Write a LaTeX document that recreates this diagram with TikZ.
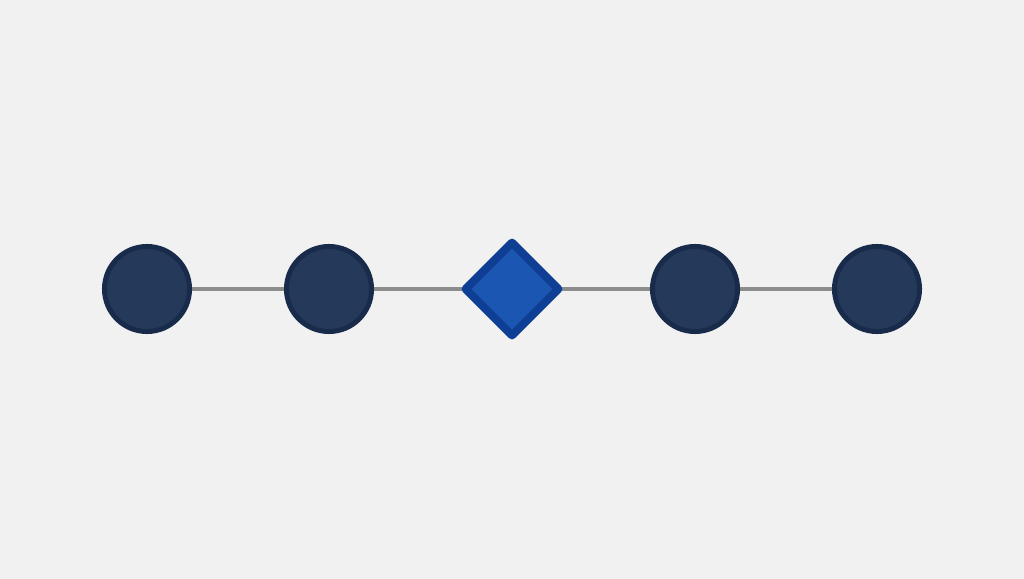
\documentclass[tikz,border=0pt]{standalone}
\usepackage{tikz}
\definecolor{pagegrey}{HTML}{F2F1F1}
\definecolor{nodenavy}{HTML}{253A5B}
\definecolor{navyrim}{HTML}{182B4A}
\definecolor{gateblue}{HTML}{1B56B3}
\definecolor{gaterim}{HTML}{0F3F95}
\definecolor{linkgrey}{HTML}{8C8C8C}
\usetikzlibrary{positioning, shapes.geometric, backgrounds}
\pagecolor{pagegrey}

\begin{document}
\begin{tikzpicture}[x=0.01cm, y=-0.01cm]
                    \tikzstyle{vertex} = [circle, draw=navyrim, fill=nodenavy, line width=0.05cm, minimum size=0.85cm, inner sep=0pt]
                    \tikzstyle{gate} = [diamond, draw=gaterim, fill=gateblue, line width=0.08cm, line join=round, minimum size=0.96cm, inner sep=0pt]
                    \tikzstyle{edge} = [draw=linkgrey, line width=0.045cm]

                    \useasboundingbox (0,0) rectangle (1024,579);

                    \node[vertex](v1) at (147,289) {};
                    \node[vertex](v2) at (329,289) {};
                    \node[gate](g1) at (512,289) {};
                    \node[vertex](v3) at (695,289) {};
                    \node[vertex](v4) at (877,289) {};

                    % links go behind the nodes, centre to centre
                    \begin{scope}[on background layer]
                    \draw[edge] (v1.center) -- (v2.center);
                    \draw[edge] (v2.center) -- (g1.center);
                    \draw[edge] (g1.center) -- (v3.center);
                    \draw[edge] (v3.center) -- (v4.center);
                    \end{scope}
\end{tikzpicture}
\end{document}
